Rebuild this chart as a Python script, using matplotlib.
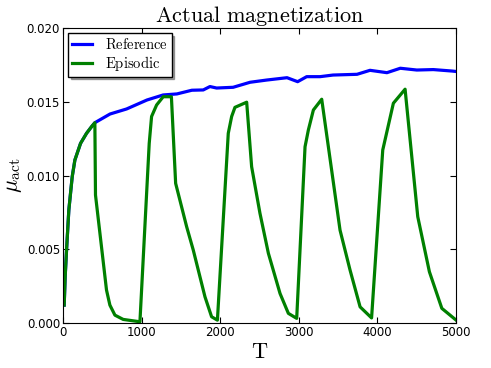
import numpy as np
import matplotlib
matplotlib.use('Agg')
import matplotlib.pyplot as plt

plt.rcParams['mathtext.fontset'] = 'cm'

# Reference (blue) curve
T_ref = [17, 30, 47, 76, 119, 153, 225, 301, 365, 407, 430, 600, 810, 1070, 1275, 1450,
         1640, 1785, 1870, 1955, 2165, 2380, 2590, 2850, 2985, 3100, 3270, 3435, 3740,
         3905, 4120, 4290, 4500, 4710, 4950, 5000]
mu_ref = [0.00122, 0.0032, 0.00495, 0.00766, 0.00992, 0.01105, 0.01218, 0.01286,
          0.01331, 0.01358, 0.01365, 0.01417, 0.01451, 0.01512, 0.01546, 0.01553,
          0.01578, 0.0158, 0.01603, 0.01593, 0.01598, 0.01632, 0.01647, 0.01663,
          0.01636, 0.0167, 0.0167, 0.01681, 0.01686, 0.01713, 0.01697, 0.01727,
          0.01715, 0.01718, 0.01708, 0.01705]

# Episodic (green) curve
T_epi = [17, 30, 47, 76, 119, 153, 225, 301, 365, 407, 415, 555, 598, 662, 767, 980,
         1098, 1128, 1192, 1276, 1380, 1434, 1574, 1658, 1807, 1891, 1965,
         2103, 2146, 2188, 2337, 2400, 2506, 2613, 2761, 2867, 2973,
         3079, 3121, 3185, 3291, 3524, 3651, 3779, 3925,
         4067, 4202, 4351, 4512, 4660, 4818, 5000]
mu_epi = [0.00122, 0.0032, 0.00495, 0.00766, 0.00992, 0.01105, 0.01218, 0.01286,
          0.01331, 0.01358, 0.00868, 0.00224, 0.00122, 0.00054, 0.00025, 0.00009,
          0.01218, 0.0140, 0.01478, 0.01534, 0.01534, 0.00947, 0.00653,
          0.00495, 0.00178, 0.00043, 0.0002,
          0.01286, 0.0140, 0.01462, 0.01497, 0.0106, 0.00744, 0.00473, 0.00201,
          0.00066, 0.00032,
          0.01195, 0.01308, 0.01444, 0.01517, 0.0063, 0.0036, 0.0011, 0.00035,
          0.01173, 0.0149, 0.01585, 0.00721, 0.00348, 0.001, 0.0002]

fig = plt.figure(figsize=(4.91, 3.68), dpi=100)
ax = fig.add_axes([0.128, 0.122, 0.801, 0.802])

ax.plot(T_ref, mu_ref, color='blue', lw=2.3, label=r'$\mathrm{Reference}$')
ax.plot(T_epi, mu_epi, color='green', lw=2.3, label=r'$\mathrm{Episodic}$')

ax.set_xlim(0, 5000)
ax.set_ylim(0, 0.020)
ax.set_xticks([0, 1000, 2000, 3000, 4000, 5000])
ax.set_yticks([0.000, 0.005, 0.010, 0.015, 0.020])
ax.yaxis.set_major_formatter(matplotlib.ticker.FormatStrFormatter('%.3f'))
ax.tick_params(direction='in', top=True, right=True, labelsize=8.5, length=4, pad=2)

ax.set_title(r'$\mathrm{Actual\ magnetization}$', fontsize=16, pad=4)
ax.set_xlabel(r'$\mathrm{T}$', fontsize=16, labelpad=2)
ax.set_ylabel(r'$\mu_{\rm act}$', fontsize=16, labelpad=2)

leg = ax.legend(loc='upper left', fancybox=False, shadow=True, fontsize=10.5,
                handlelength=1.4, handletextpad=0.9, labelspacing=0.15,
                borderaxespad=0.35, borderpad=0.25)
leg.get_frame().set_edgecolor('black')

fig.savefig('out.png', dpi=100)
